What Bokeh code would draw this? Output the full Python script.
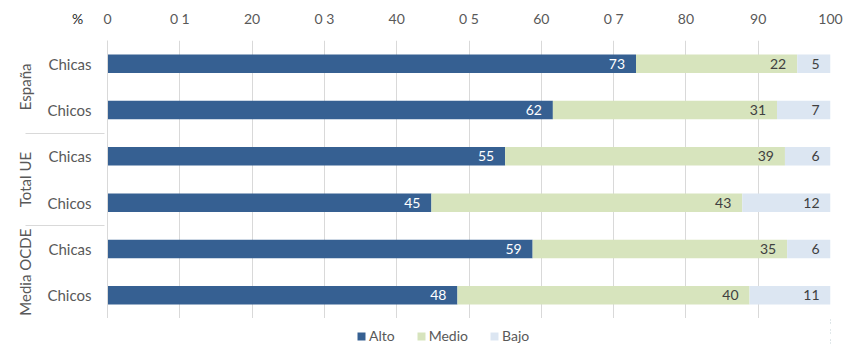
from bokeh.plotting import figure
from bokeh.layouts import column
from bokeh.models import (FactorRange, FixedTicker, ColumnDataSource, Legend,
                          LegendItem, Label, Range1d)
from bokeh.embed import file_html
from bokeh.resources import INLINE
from bokeh.core.properties import value

# ---- data ----
groups = ["España", "España", "Total UE", "Total UE", "Media OCDE", "Media OCDE"]
sexes = ["Chicas", "Chicos", "Chicas", "Chicos", "Chicas", "Chicos"]
alto = [73.1, 61.6, 55.0, 44.8, 58.8, 48.4]
medio = [22.3, 31.0, 38.7, 43.0, 35.2, 40.4]
bajo = [4.6, 7.4, 6.3, 12.2, 6.0, 11.2]
series = ["Alto", "Medio", "Bajo"]
colors = ["#366092", "#D7E4BD", "#DCE6F2"]
label_colors = ["#FFFFFF", "#404040", "#404040"]
x_ticks = [0, 10, 20, 30, 40, 50, 60, 70, 80, 90, 100]
x_tick_labels = ["0", "0 1", "20", "0 3", "40", "0 5", "60", "0 7", "80", "90", "100"]
unit_label = "%"

FONT = "Lato"
GRAY = "#595959"
GRID = "#D9D9D9"

factors = list(zip(groups, sexes))
source = ColumnDataSource(dict(
    factor=factors, Alto=alto, Medio=medio, Bajo=bajo,
))
cat_factors = list(reversed(factors))

y_range = FactorRange(*cat_factors, range_padding=0,
                      group_padding=0, factor_padding=0)

p = figure(width=844, height=318, y_range=y_range, x_range=Range1d(0, 100),
           x_axis_location="above", output_backend="svg",
           toolbar_location=None, min_border_left=107, min_border_right=14,
           min_border_top=40, min_border_bottom=0)
p.outline_line_color = None

renderers = p.hbar_stack(series, y="factor", height=0.4, color=colors,
                         line_color=None, source=source)

# value labels at inside end of each segment
cum = [0.0] * len(alto)
for name, vals, tc in zip(series, [alto, medio, bajo], label_colors):
    cum = [c + v for c, v in zip(cum, vals)]
    src = ColumnDataSource(dict(x=list(cum), y=factors,
                                t=["%.0f" % v for v in vals]))
    p.text(x="x", y="y", text="t", source=src, text_align="right",
           text_baseline="middle", x_offset=-11, text_color=tc,
           text_font=value(FONT), text_font_size="14px")

# top axis
xa = p.xaxis[0]
xa.ticker = FixedTicker(ticks=x_ticks)
xa.major_label_overrides = {t: l for t, l in zip(x_ticks, x_tick_labels)}
xa.axis_line_color = None
xa.major_tick_line_color = None
xa.minor_tick_line_color = None
xa.major_label_text_font = FONT
xa.major_label_text_font_size = "14px"
xa.major_label_text_color = GRAY
xa.major_label_standoff = 8

p.xgrid.ticker = FixedTicker(ticks=x_ticks)
p.xgrid.grid_line_color = GRID
p.ygrid.grid_line_color = None

# left nested axis
ya = p.yaxis[0]
ya.axis_line_color = GRID
ya.major_tick_line_color = None
ya.minor_tick_line_color = None
ya.major_label_text_font = FONT
ya.major_label_text_font_size = "15px"
ya.major_label_text_color = GRAY
ya.major_label_standoff = 10
ya.group_text_font = FONT
ya.group_text_font_size = "15px"
ya.group_text_font_style = "normal"
ya.group_text_color = GRAY
ya.group_label_orientation = "parallel"
ya.separator_line_color = GRID
ya.separator_line_width = 1

# "%" unit label (in a side panel so it is not clipped to the frame)
p.add_layout(Label(x=-4.15, y=6.47, text=unit_label, text_align="center",
                   text_baseline="middle", text_font=FONT,
                   text_font_size="14px", text_color="#262626"), "left")

# legend strip under the chart (proxy bars lie outside its visible x range)
lf = figure(width=844, height=26, x_range=Range1d(-2, -1),
            y_range=FactorRange(*cat_factors), x_axis_type=None,
            y_axis_type=None, output_backend="svg",
            toolbar_location=None, min_border=0)
lf.outline_line_color = None
lf.grid.visible = False
proxies = lf.hbar_stack(series, y="factor", height=0.4, color=colors,
                        line_color=None, source=source)
legend = Legend(items=[LegendItem(label=s, renderers=[r]) for s, r in zip(series, proxies)],
                orientation="horizontal", location=(249, 0),
                glyph_width=10, glyph_height=10, label_height=16,
                label_text_font=FONT, label_text_baseline="middle",
                label_text_font_size="14px", label_text_color=GRAY,
                background_fill_alpha=0, border_line_color=None,
                padding=0, margin=0, spacing=21, label_standoff=3)
lf.add_layout(legend)

layout = column(p, lf, spacing=0)
open("out.html", "w").write(file_html(layout, INLINE))
